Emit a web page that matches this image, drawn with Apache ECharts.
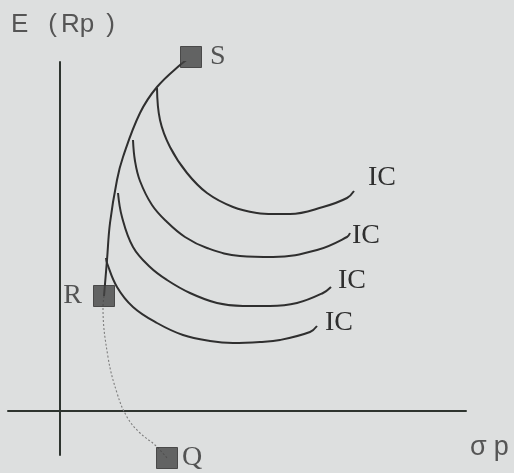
<!DOCTYPE html>
<html>
<head>
<meta charset="utf-8">
<script src="https://cdn.jsdelivr.net/npm/echarts@6/dist/echarts.min.js"></script>
<style>
  html, body { margin: 0; padding: 0; background: #dddfdf; }
  #chart { width: 514px; height: 473px; }
</style>
</head>
<body>
<div id="chart"></div>
<script>
// Portfolios as [sigma_p, E(Rp)]
const pointNames = ['S', 'R', 'Q'];
const pointValues = [[13.1, 35.4], [4.4, 11.5], [10.7, -4.7]];

// Efficient frontier S -> R (solid) and R -> Q (dotted)
const frontierUpper = [[13.1, 35.4], [12.0, 34.6], [9.7, 32.4], [8.0, 29.8], [6.3, 25.4],
  [5.7, 23.1], [5.0, 18.8], [4.7, 15.1], [4.4, 11.5]];
const frontierLower = [[4.4, 11.5], [4.3, 10.4], [4.8, 5.4], [5.7, 1.8], [6.7, -0.6],
  [8.0, -2.2], [9.5, -3.4], [10.7, -4.7]];

// Indifference curves, highest to lowest
const ic1 = [[9.7, 32.3], [10.0, 29.1], [11.0, 26.4], [12.7, 23.8], [14.7, 21.8], [17.3, 20.4],
  [19.7, 19.8], [21.3, 19.7], [23.0, 19.7], [26.3, 20.4], [28.7, 21.3], [29.4, 22.0]];
const ic2 = [[7.3, 27.1], [7.5, 25.0], [8.0, 23.0], [9.2, 20.6], [10.7, 18.9], [12.5, 17.4],
  [14.7, 16.3], [18.0, 15.5], [21.3, 15.4], [25.7, 16.1], [28.7, 17.4], [29.0, 17.8]];
const ic3 = [[5.8, 21.8], [6.2, 19.4], [7.3, 16.4], [9.0, 14.4], [10.7, 13.1], [13.0, 11.8],
  [15.7, 10.8], [18.3, 10.5], [21.0, 10.5], [23.7, 10.8], [26.3, 11.8], [27.1, 12.4]];
const ic4 = [[4.6, 15.3], [4.7, 14.8], [5.7, 12.4], [7.3, 10.4], [9.7, 8.8], [12.3, 7.6],
  [15.0, 7.0], [17.3, 6.8], [20.0, 6.9], [22.0, 7.1], [25.0, 7.9], [25.7, 8.5]];
const icCurves = [ic1, ic2, ic3, ic4];
const icLabel = 'IC';

const ink = '#2f2f2f';
const serif = '"Liberation Serif", "DejaVu Serif", serif';
const sans = '"Liberation Sans", Arial, sans-serif';

const icOffsets = [[14, -13], [2, 3], [7, -6], [8, -3]];
const pointLabelPos = { S: ['right', 8], R: ['left', 11], Q: ['right', 4] };

const chart = echarts.init(document.getElementById('chart'), null, { renderer: 'canvas' });

const series = [];
series.push({
  type: 'line', data: frontierUpper, smooth: 0.4, showSymbol: false, silent: true,
  lineStyle: { color: ink, width: 2 }, z: 3
});
series.push({
  type: 'line', data: frontierLower, smooth: 0.4, showSymbol: false, silent: true, clip: false,
  lineStyle: { color: '#7d7d7d', width: 1.1, type: [2, 2] }, z: 3
});
icCurves.forEach((c, i) => {
  series.push({
    type: 'line', data: c, smooth: 0.4, showSymbol: false, silent: true,
    lineStyle: { color: ink, width: 2 }, z: 3,
    endLabel: {
      show: true, formatter: icLabel, distance: 0, offset: icOffsets[i],
      fontFamily: serif, fontSize: 28, color: ink
    }
  });
});
series.push({
  type: 'scatter', clip: false, symbol: 'rect', symbolSize: 21, z: 5,
  itemStyle: { color: '#434343', borderColor: '#333333', borderWidth: 1 },
  data: pointNames.map((n, i) => ({
    name: n, value: pointValues[i],
    label: {
      show: true, formatter: n, position: pointLabelPos[n][0], distance: pointLabelPos[n][1],
      fontFamily: serif, fontSize: 28, color: ink
    }
  }))
});

chart.setOption({
  animation: false,
  backgroundColor: '#dddfdf',
  grid: { left: 8, right: 48, top: 62, bottom: 18 },
  xAxis: {
    type: 'value', min: -5.2, max: 40.6,
    axisLine: { onZero: true, lineStyle: { color: '#2e342f', width: 2 } },
    axisTick: { show: false }, axisLabel: { show: false }, splitLine: { show: false }
  },
  yAxis: {
    type: 'value', min: -4.4, max: 34.9,
    axisLine: { onZero: true, lineStyle: { color: '#2e342f', width: 2 } },
    axisTick: { show: false }, axisLabel: { show: false }, splitLine: { show: false }
  },
  graphic: [
    {
      type: 'text', left: 11, top: 12,
      style: {
        text: '{a|E}{g| }{a|(}{k| }{a|Rp}{h| }{a|)}',
        rich: {
          a: { fontFamily: sans, fontSize: 26, fill: '#555555' },
          g: { width: 20, fontSize: 26 },
          k: { width: 4, fontSize: 26 },
          h: { width: 12, fontSize: 26 }
        }
      }
    },
    {
      type: 'text', left: 470, top: 434,
      style: {
        text: '{a|σ}{g| }{a|p}',
        rich: {
          a: { fontFamily: sans, fontSize: 27, fill: '#555555' },
          g: { width: 7, fontSize: 27 }
        }
      }
    }
  ],
  series: series
});
</script>
</body>
</html>
